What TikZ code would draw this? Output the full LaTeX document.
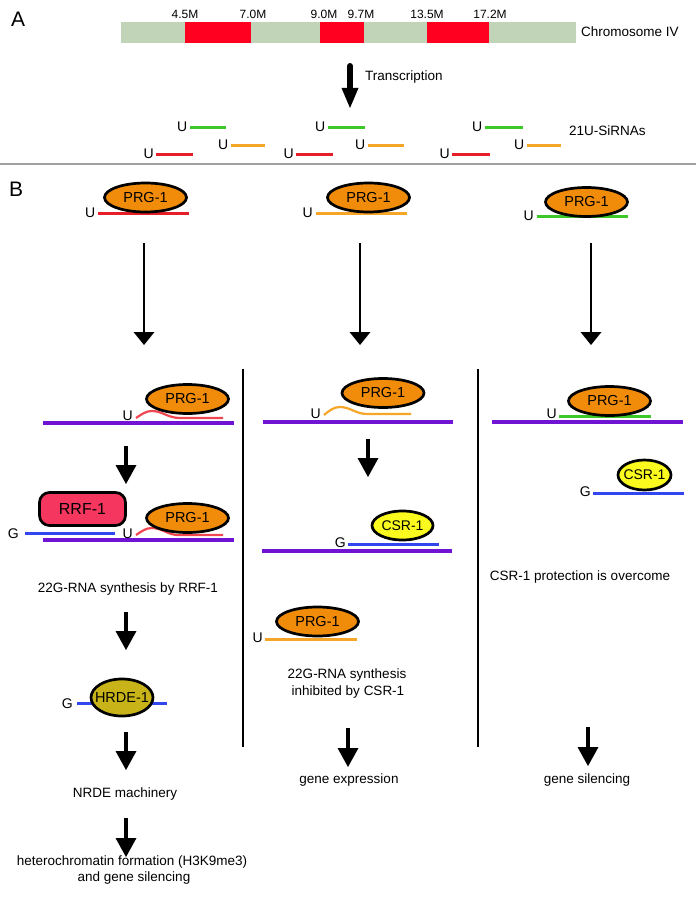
\documentclass[tikz,border=0pt]{standalone}
\usepackage{fontspec}
\setmainfont{Liberation Sans}
\usetikzlibrary{arrows.meta,shapes.geometric}

\definecolor{chromgreen}{RGB}{194,212,184}
\definecolor{chromred}{RGB}{255,0,32}
\definecolor{rnagreen}{RGB}{60,200,40}
\definecolor{rnaorange}{RGB}{245,165,40}
\definecolor{rnared}{RGB}{230,30,40}
\definecolor{curvered}{RGB}{240,70,80}
\definecolor{prgorange}{RGB}{240,140,10}
\definecolor{rnapurple}{RGB}{110,20,210}
\definecolor{rnablue}{RGB}{50,70,240}
\definecolor{rrfred}{RGB}{245,55,95}
\definecolor{csryellow}{RGB}{250,250,30}
\definecolor{hrdeolive}{RGB}{200,180,25}
\definecolor{sepgray}{RGB}{160,160,160}

\begin{document}
\begin{tikzpicture}[x=1pt,y=-1pt,
  lab/.style={font=\fontsize{13.5}{16}\selectfont, inner sep=0pt, anchor=base},
  mlab/.style={font=\fontsize{12}{14}\selectfont, inner sep=0pt, anchor=base},
  ulab/.style={font=\fontsize{14}{16}\selectfont, inner sep=0pt, anchor=base east},
  heading/.style={font=\fontsize{21}{24}\selectfont, inner sep=0pt, anchor=base west},
  rna/.style={line width=3pt},
  mrna/.style={line width=4pt, rnapurple},
  btxt/.style={font=\fontsize{14.5}{16}\selectfont, inner sep=0pt},
  blob/.style={ellipse, draw=black, line width=2.7pt, inner sep=0pt},
  prg/.style={blob, fill=prgorange, minimum width=82pt, minimum height=29pt},
  csr/.style={blob, fill=csryellow},
  longarrow/.style={line width=2.6pt, -{Triangle[width=21pt,length=13pt,line width=0pt]}},
  shortarrow/.style={line width=4pt, -{Triangle[width=21pt,length=19pt,line width=0pt]}},
  bigarrow/.style={line width=6pt, line cap=round, -{Triangle[width=17pt,length=20pt,line width=0pt]}},
  vsep/.style={line width=2pt}
]
\useasboundingbox (0,0) rectangle (696,901);

% ---------------- Panel A ----------------
\node[heading] (lA) at (11,27) {A};
\node[fill=chromgreen, minimum width=455pt, minimum height=21pt, inner sep=0pt, anchor=north west] (chrom) at (121,22) {};
\fill[chromred] (185,22) rectangle (251,43);
\fill[chromred] (320,22) rectangle (364,43);
\fill[chromred] (427,22) rectangle (489,43);
\node[mlab] (m1) at (185,19) {4.5M};
\node[mlab] (m2) at (253,19) {7.0M};
\node[mlab] (m3) at (324,19) {9.0M};
\node[mlab] (m4) at (361,19) {9.7M};
\node[mlab] (m5) at (427,19) {13.5M};
\node[mlab] (m6) at (490,19) {17.2M};
\node[lab, anchor=base west] (chrlab) at (581,37) {Chromosome IV};

\coordinate (t0) at (350,66);
\coordinate (t1) at (350,108);
\draw[bigarrow] (t0) -- (t1);
\node[lab, anchor=base west] (tlab) at (365,81) {Transcription};

% 21U-siRNAs group 1
\draw[rna, rnagreen] (190,128) -- (226,128);
\node[ulab] (ug1) at (187.5,131.5) {U};
\draw[rna, rnaorange] (231,146) -- (265,146);
\node[ulab] (uo1) at (228.5,149.5) {U};
\draw[rna, rnared] (156,155) -- (193,155);
\node[ulab] (ur1) at (154,158.5) {U};
% group 2
\draw[rna, rnagreen] (328,128) -- (365,128);
\node[ulab] (ug2) at (325.5,131.5) {U};
\draw[rna, rnaorange] (368,146) -- (404,146);
\node[ulab] (uo2) at (365.5,149.5) {U};
\draw[rna, rnared] (296,155) -- (333,155);
\node[ulab] (ur2) at (294,158.5) {U};
% group 3
\draw[rna, rnagreen] (485,128) -- (523,128);
\node[ulab] (ug3) at (482.5,131.5) {U};
\draw[rna, rnaorange] (527,146) -- (561,146);
\node[ulab] (uo3) at (524.5,149.5) {U};
\draw[rna, rnared] (452,155) -- (490,155);
\node[ulab] (ur3) at (450,158.5) {U};
\node[lab, anchor=base west] (silab) at (569,136) {21U-SiRNAs};

\coordinate (sepL) at (0,164);
\coordinate (sepR) at (696,164);
\draw[sepgray, line width=1.5pt] (sepL) -- (sepR);

% ---------------- Panel B ----------------
\node[heading] (lB) at (9,197) {B};

% row 1
\draw[rna, rnared] (98,214) -- (189,214);
\node[prg, label={[btxt]center:PRG-1}] (pa1) at (145.5,197.5) {};
\node[ulab] (ua1) at (95.5,217.5) {U};
\draw[rna, rnaorange] (316,214) -- (407,214);
\node[prg, label={[btxt]center:PRG-1}] (pa2) at (368.5,197.5) {};
\node[ulab] (ua2) at (313,217.5) {U};
\draw[rna, rnagreen] (537,217) -- (628,217);
\node[prg, label={[btxt]center:PRG-1}] (pa3) at (586.5,202) {};
\node[ulab] (ua3) at (534,220.5) {U};

% long arrows
\coordinate (la1s) at (144,243); \coordinate (la1e) at (144,345);
\coordinate (la2s) at (360,243); \coordinate (la2e) at (360,345);
\coordinate (la3s) at (591,243); \coordinate (la3e) at (591,345);
\draw[longarrow] (la1s) -- (la1e);
\draw[longarrow] (la2s) -- (la2e);
\draw[longarrow] (la3s) -- (la3e);

% column separators
\coordinate (v1t) at (243,369); \coordinate (v1b) at (243,747);
\coordinate (v2t) at (478,369); \coordinate (v2b) at (478,747);
\draw[vsep] (v1t) -- (v1b);
\draw[vsep] (v2t) -- (v2b);

% row 2, column 1
\draw[mrna] (43,423) -- (234,423);
\draw[curvered, line width=2.2pt] (136,418) .. controls (142,414) and (146,411) .. (152,411) .. controls (162,411) and (168,418) .. (180,418) -- (223,418);
\node[prg, label={[btxt]center:PRG-1}] (pb1) at (187.5,399) {};
\node[ulab] (ub1) at (133,420) {U};

% row 2, column 2
\draw[mrna] (263,422) -- (453,422);
\draw[rnaorange, line width=2.2pt] (324,415) .. controls (330,410) and (334,407) .. (340,407) .. controls (350,407) and (356,414) .. (367,414) -- (411,414);
\node[prg, label={[btxt]center:PRG-1}] (pb2) at (383,393) {};
\node[ulab] (ub2) at (321,418) {U};

% row 2, column 3
\draw[mrna] (492,422) -- (683,422);
\draw[rna, rnagreen] (559,416) -- (651,416);
\node[prg, label={[btxt]center:PRG-1}] (pb3) at (609.5,401) {};
\node[ulab] (ub3) at (557,418) {U};
\draw[rna, rnablue] (593,493) -- (684,493);
\node[csr, minimum width=53pt, minimum height=30pt, label={[btxt, font=\fontsize{14}{16}\selectfont]center:CSR-1}] (cc3) at (644.5,475) {};
\node[ulab] (gc3) at (591,496) {G};
\node[lab] (over) at (580,580) {CSR-1 protection is overcome};

% column 1 lower part
\coordinate (s1s) at (126,446); \coordinate (s1e) at (126,484);
\draw[shortarrow] (s1s) -- (s1e);
\node[draw=black, line width=2.7pt, rounded corners=10pt, fill=rrfred, minimum width=86pt, minimum height=33pt, inner sep=0pt, font=\fontsize{16}{18}\selectfont] (rrf) at (82.5,509) {RRF-1};
\draw[mrna] (43,540) -- (234,540);
\draw[rna, rnablue] (25,533) -- (115,533);
\draw[curvered, line width=2.2pt] (136,535) .. controls (142,531) and (146,528) .. (152,528) .. controls (162,528) and (168,535) .. (178,535) -- (223,535);
\node[prg, label={[btxt]center:PRG-1}] (pc1) at (187.5,518) {};
\node[ulab] (gc1) at (19,538) {G};
\node[ulab] (uc1) at (133,538) {U};
\node[lab] (syn1) at (128,592) {22G-RNA synthesis by RRF-1};
\coordinate (s2s) at (126,612); \coordinate (s2e) at (126,650);
\draw[shortarrow] (s2s) -- (s2e);
\draw[rna, rnablue] (77,703) -- (167,703);
\node[blob, fill=hrdeolive, minimum width=62pt, minimum height=37pt, label={[btxt]center:HRDE-1}] (hrde) at (122,697.5) {};
\node[ulab] (gh) at (73,708) {G};
\coordinate (s3s) at (126,732); \coordinate (s3e) at (126,770);
\draw[shortarrow] (s3s) -- (s3e);
\node[lab] (nrde) at (125,797) {NRDE machinery};
\coordinate (s4s) at (126,818); \coordinate (s4e) at (126,857);
\draw[shortarrow] (s4s) -- (s4e);
\node[lab] (het1) at (132,865) {heterochromatin formation (H3K9me3)};
\node[lab] (het2) at (134,881) {and gene silencing};

% column 2 lower part
\coordinate (s5s) at (368,439); \coordinate (s5e) at (368,477);
\draw[shortarrow] (s5s) -- (s5e);
\draw[mrna] (262,551) -- (452,551);
\draw[rna, rnablue] (348,544) -- (439,544);
\node[csr, minimum width=61pt, minimum height=29pt, label={[btxt, font=\fontsize{14}{16}\selectfont]center:CSR-1}] (cc2) at (402.5,525.5) {};
\node[ulab] (gc2) at (346,547) {G};
\draw[rna, rnaorange] (265,639) -- (357,639);
\node[prg, label={[btxt]center:PRG-1}] (pd2) at (317.5,621.5) {};
\node[ulab] (ud2) at (263,642) {U};
\node[lab] (syn2a) at (347,678) {22G-RNA synthesis};
\node[lab] (syn2b) at (348,695) {inhibited by CSR-1};
\coordinate (s6s) at (348,728); \coordinate (s6e) at (348,767);
\draw[shortarrow] (s6s) -- (s6e);
\node[lab] (expr) at (349,783) {gene expression};

% column 3 lower part
\coordinate (s7s) at (588,727); \coordinate (s7e) at (588,766);
\draw[shortarrow] (s7s) -- (s7e);
\node[lab] (sil) at (587,783) {gene silencing};
\end{tikzpicture}
\end{document}
